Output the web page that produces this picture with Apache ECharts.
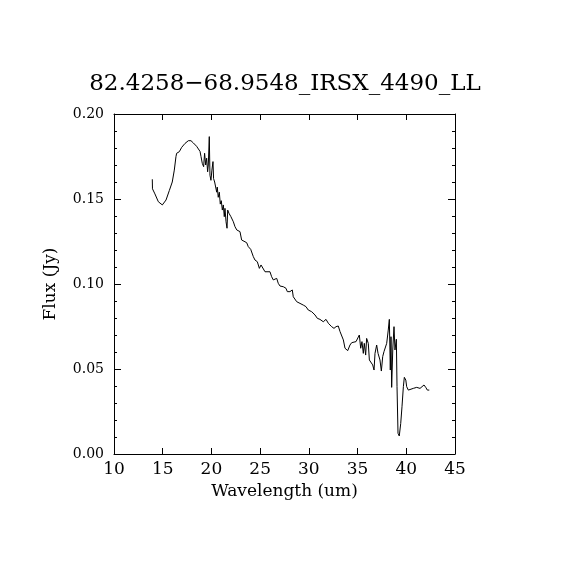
<!DOCTYPE html>
<html>
<head>
<meta charset="utf-8">
<script src="https://cdn.jsdelivr.net/npm/echarts@6/dist/echarts.min.js"></script>
<style>
  html, body { margin: 0; padding: 0; background: #fff; }
  #chart { width: 570px; height: 570px; }
</style>
</head>
<body>
<div id="chart"></div>
<script>
// spectrum
const wavelength = [
  13.93, 13.95, 14.2, 14.55, 14.96, 15.34, 15.68, 15.98, 16.19, 16.36,
  16.43, 16.7, 16.95, 17.29, 17.63, 17.9, 18.04, 18.14, 18.31, 18.48,
  18.65, 18.83, 18.93, 19.06, 19.2, 19.3, 19.41, 19.51, 19.61, 19.68,
  19.78, 19.85, 19.95, 20.05, 20.16, 20.22, 20.33, 20.43, 20.54, 20.6,
  20.7, 20.81, 20.91, 21.01, 21.12, 21.22, 21.32, 21.39, 21.5, 21.6,
  21.67, 21.8, 22.0, 22.25, 22.42, 22.6, 22.76, 22.93, 23.1, 23.27,
  23.62, 23.78, 24.03, 24.3, 24.47, 24.71, 24.92, 25.09, 25.26, 25.5,
  25.67, 26.01, 26.18, 26.35, 26.7, 26.86, 27.04, 27.38, 27.65, 27.79,
  28.06, 28.3, 28.4, 28.58, 28.75, 29.09, 29.43, 29.7, 29.94, 30.29,
  30.63, 30.87, 31.14, 31.48, 31.76, 32.0, 32.34, 32.58, 32.79, 33.02,
  33.2, 33.37, 33.54, 33.71, 33.99, 34.22, 34.4, 34.56, 34.84, 34.97,
  35.18, 35.32, 35.45, 35.59, 35.69, 35.83, 35.93, 36.1, 36.21, 36.38,
  36.55, 36.69, 36.79, 36.96, 37.1, 37.3, 37.44, 37.58, 37.71, 37.88,
  37.99, 38.15, 38.26, 38.36, 38.43, 38.5, 38.61, 38.74, 38.84, 38.98,
  39.05, 39.15, 39.28, 39.43, 39.56, 39.7, 39.8, 39.95, 40.04, 40.21,
  40.38, 40.72, 41.07, 41.41, 41.58, 41.82, 42.02, 42.16, 42.36
];
const flux = [
  0.1616, 0.156, 0.153, 0.1484, 0.1465, 0.1494, 0.155, 0.160, 0.167, 0.1749,
  0.1769, 0.1778, 0.1804, 0.1827, 0.1843, 0.1843, 0.185, 0.183, 0.1834, 0.181,
  0.1812, 0.178, 0.175, 0.171, 0.169, 0.1769, 0.170, 0.174, 0.166, 0.170,
  0.1867, 0.164, 0.161, 0.167, 0.172, 0.162, 0.160, 0.159, 0.154, 0.157,
  0.151, 0.154, 0.147, 0.149, 0.1435, 0.1465, 0.1396, 0.1445, 0.1366, 0.1328,
  0.1435, 0.1416, 0.1396, 0.1366, 0.1337, 0.1318, 0.132, 0.1308, 0.1259, 0.1249,
  0.1243, 0.122, 0.1204, 0.1161, 0.1141, 0.1131, 0.1092, 0.1112, 0.1102, 0.1072,
  0.1078, 0.1072, 0.1043, 0.1024, 0.1033, 0.1004, 0.0988, 0.0984, 0.0975, 0.0955,
  0.0955, 0.0965, 0.0925, 0.0935, 0.0896, 0.0886, 0.0876, 0.0867, 0.0847, 0.0837,
  0.0818, 0.0798, 0.0792, 0.0778, 0.0792, 0.0769, 0.0749, 0.0739, 0.0749, 0.0753,
  0.072, 0.071, 0.0671, 0.0622, 0.0608, 0.0641, 0.0655, 0.0661, 0.0661, 0.0671,
  0.070, 0.0622, 0.0661, 0.0592, 0.0651, 0.0582, 0.068, 0.0651, 0.0553, 0.0549,
  0.0524, 0.0494, 0.0592, 0.0641, 0.0592, 0.0553, 0.0488, 0.0573, 0.0602, 0.0612,
  0.0651, 0.0729, 0.0792, 0.0494, 0.069, 0.0392, 0.0612, 0.0749, 0.0612, 0.0675,
  0.0396, 0.0122, 0.0106, 0.018, 0.0278, 0.0396, 0.0451, 0.0435, 0.0396, 0.0376,
  0.0386, 0.0386, 0.0392, 0.0386, 0.0392, 0.0406, 0.039, 0.0376, 0.0376
];

const titleText = '82.4258\u221268.9548_IRSX_4490_LL';
const xName = 'Wavelength (um)';
const yName = 'Flux (Jy)';

const FONT = 'DejaVu Serif';

const chart = echarts.init(document.getElementById('chart'));

// plain black frame axis, used for all four sides
function frameAxis(extra) {
  return Object.assign({
    type: 'value',
    axisLine: { show: true, onZero: false, lineStyle: { color: '#000', width: 1 } },
    axisTick: { show: true, inside: true, length: 6, lineStyle: { color: '#000' } },
    splitLine: { show: false },
    axisLabel: { show: false }
  }, extra);
}

const xScale = { min: 10, max: 45, interval: 5 };
const yScale = {
  min: 0, max: 0.2, interval: 0.05,
  axisTick: { show: true, inside: true, length: 7, lineStyle: { color: '#000' } },
  minorTick: { show: true, splitNumber: 5, length: 3, lineStyle: { color: '#000' } }
};

chart.setOption({
  animation: false,
  backgroundColor: '#fff',
  title: {
    text: titleText,
    left: 'center',
    top: 68,
    textStyle: { fontFamily: FONT, fontSize: 23, fontWeight: 'normal', color: '#000' }
  },
  grid: { left: 114, top: 114, right: 115, bottom: 116 },
  xAxis: [
    frameAxis(Object.assign({}, xScale, {
      position: 'bottom',
      name: xName,
      nameLocation: 'middle',
      nameGap: 28,
      nameTextStyle: { fontFamily: FONT, fontSize: 17, color: '#000' },
      axisLabel: { show: true, margin: 7, fontFamily: FONT, fontSize: 17, color: '#000' }
    })),
    frameAxis(Object.assign({}, xScale, { position: 'top' }))
  ],
  yAxis: [
    frameAxis(Object.assign({}, yScale, {
      position: 'left',
      name: yName,
      nameLocation: 'middle',
      nameGap: 55,
      nameTextStyle: { fontFamily: FONT, fontSize: 17, color: '#000' },
      axisLabel: {
        show: true, margin: 10, fontFamily: FONT, fontSize: 14, color: '#000',
        formatter: (v) => v.toFixed(2)
      }
    })),
    frameAxis(Object.assign({}, yScale, { position: 'right' }))
  ],
  series: [{
    type: 'line',
    data: wavelength.map((w, i) => [w, flux[i]]),
    xAxisIndex: 0,
    yAxisIndex: 0,
    showSymbol: false,
    lineStyle: { color: '#000', width: 1 },
    silent: true
  }]
});
</script>
</body>
</html>
